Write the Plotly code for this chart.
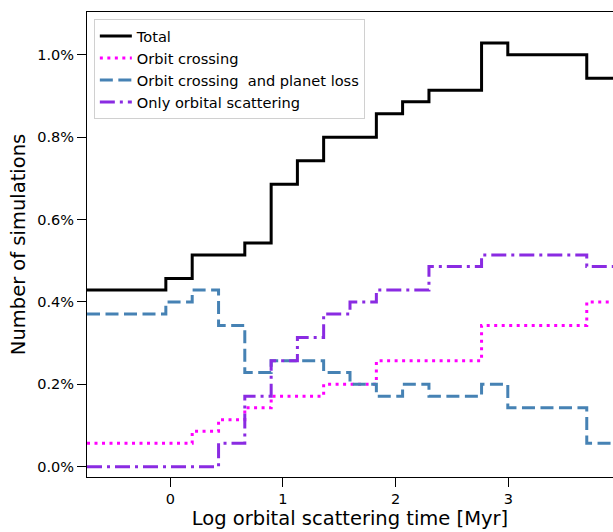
import plotly.graph_objects as go

# Bin edges (log10 of orbital scattering time in Myr)
bin_edges = [-0.74, -0.507, -0.273, -0.040, 0.194, 0.428, 0.661, 0.895, 1.128,
             1.361, 1.595, 1.829, 2.062, 2.296, 2.529, 2.763, 2.996, 3.230,
             3.463, 3.697, 3.930]

# Percent of simulations per bin
total = [0.429, 0.429, 0.429, 0.457, 0.514, 0.514, 0.543, 0.686, 0.743, 0.800,
         0.800, 0.857, 0.886, 0.914, 0.914, 1.029, 1.000, 1.000, 1.000, 0.943]
orbit_crossing = [0.057, 0.057, 0.057, 0.057, 0.086, 0.114, 0.143, 0.171, 0.171, 0.200,
                  0.200, 0.257, 0.257, 0.257, 0.257, 0.343, 0.343, 0.343, 0.343, 0.400]
crossing_loss = [0.371, 0.371, 0.371, 0.400, 0.429, 0.343, 0.229, 0.257, 0.257, 0.229,
                 0.200, 0.171, 0.200, 0.171, 0.171, 0.200, 0.143, 0.143, 0.143, 0.057]
only_scattering = [0.0, 0.0, 0.0, 0.0, 0.0, 0.057, 0.171, 0.257, 0.314, 0.371,
                   0.400, 0.429, 0.429, 0.486, 0.486, 0.514, 0.514, 0.514, 0.514, 0.486]

y_tick_vals = [0, 0.2, 0.4, 0.6, 0.8, 1.0]
y_tick_text = ["0.0%", "0.2%", "0.4%", "0.6%", "0.8%", "1.0%"]
x_tick_vals = [0, 1, 2, 3]

series = [
    ("Total", total, "black", "solid"),
    ("Orbit crossing", orbit_crossing, "#FF00FF", "3px,4.5px"),
    ("Orbit crossing  and planet loss", crossing_loss, "#4682B4", "13px,5.5px"),
    ("Only orbital scattering", only_scattering, "#8A2BE2", "15px,5px,3px,5px"),
]

FONT = "DejaVu Sans"
TICK = 14.5
fig = go.Figure()
for name, vals, color, dash in series:
    fig.add_trace(go.Scatter(
        x=bin_edges, y=vals + [vals[-1]], mode="lines", name=name,
        line=dict(shape="hv", color=color, width=3, dash=dash),
    ))

fig.update_layout(
    width=613, height=532,
    margin=dict(l=87, r=0, t=12, b=55),
    plot_bgcolor="white", paper_bgcolor="white",
    font=dict(family=FONT, size=TICK, color="black"),
    showlegend=True,
    legend=dict(x=0.013, y=0.985, xanchor="left", yanchor="top",
                bgcolor="white", bordercolor="#d0d0d0", borderwidth=1,
                itemwidth=32,
                font=dict(family=FONT, size=14.6, color="black"), tracegroupgap=0),
    xaxis=dict(range=[-0.74, 3.93], tickmode="array", tickvals=x_tick_vals,
               ticktext=[str(v) for v in x_tick_vals],
               tickfont=dict(family=FONT, size=TICK, color="black"),
               showgrid=False, zeroline=False, showline=True, linecolor="black",
               linewidth=1, mirror=True, ticks="outside", ticklen=9, tickwidth=1.3,
               tickcolor="black",
               title=dict(text="Log orbital scattering time [Myr]",
                          font=dict(family=FONT, size=19.5, color="black"), standoff=4)),
    yaxis=dict(range=[-0.025, 1.104], tickmode="array", tickvals=y_tick_vals,
               ticktext=y_tick_text,
               tickfont=dict(family=FONT, size=TICK, color="black"),
               showgrid=False, zeroline=False, showline=True, linecolor="black",
               linewidth=1, ticks="outside", ticklen=9, tickwidth=1.3,
               tickcolor="black",
               title=dict(text="Number of simulations",
                          font=dict(family=FONT, size=19.5, color="black"), standoff=6)),
)

fig.write_html(
    "out.html",
    config={"displayModeBar": False},
    post_script="document.body.style.margin='0';document.body.style.overflow='hidden';",
)
